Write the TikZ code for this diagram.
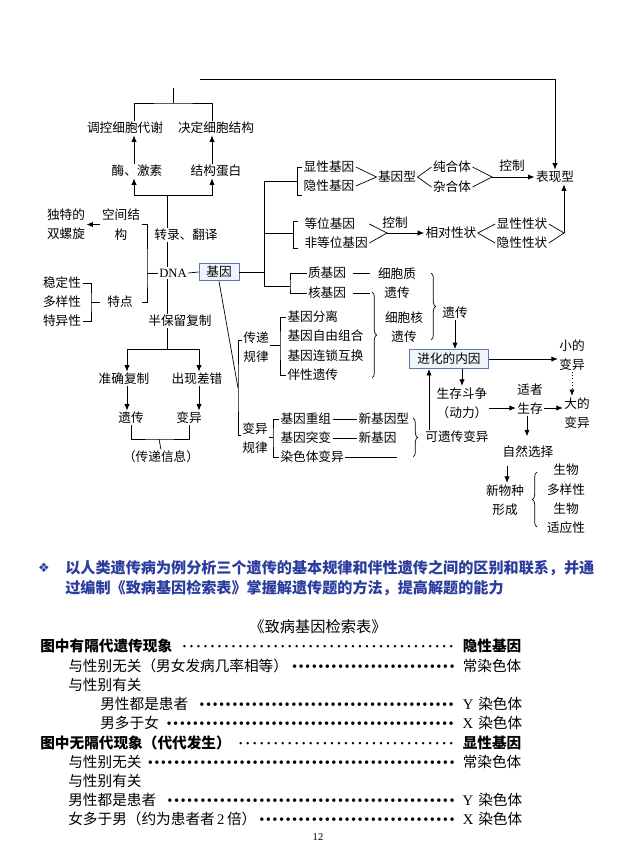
\documentclass[tikz,border=0pt]{standalone}
\usepackage{fontspec}
\setmainfont{Noto Sans CJK SC}
\newfontfamily\lat{Liberation Serif}
\newfontfamily\sym{DejaVu Sans}
\usetikzlibrary{arrows.meta, decorations.pathreplacing, calc}
\definecolor{boxline}{HTML}{5B79AE}
\definecolor{boxfill}{HTML}{EFF3FA}
\definecolor{headblue}{HTML}{2B3C9E}
\newcommand\fs{\fontsize{10.8pt}{16.5pt}\selectfont}
\newcommand\fr{\fontsize{12.5pt}{15pt}\selectfont}
\newcommand\bdots{\leaders\hbox to 5.6pt{\hss{\lat\fontsize{12.5pt}{12pt}\selectfont •}\hss}\hskip 0pt plus 1fill}
\newcommand\mdots{\leaders\hbox to 6pt{\hss{\lat ·}\hss}\hskip 0pt plus 1fill}
\newcommand\rtxt[1]{\rlap{\,#1}}
\tikzset{
    txt/.style={font=\fs, inner sep=1pt, align=center},
    box_blue/.style={rectangle, draw=boxline, fill=boxfill, line width=0.8pt, font=\fs, minimum width=1.2cm, minimum height=0.53cm, inner sep=2pt},
    arrow/.style={-{Latex[length=5.5pt,width=4.5pt]}, line width=0.7pt},
    brace_r/.style={decorate, decoration={brace, amplitude=4pt}},
    row/.style={font=\fr, inner sep=0pt, anchor=west, align=left}
}

\begin{document}
\begin{tikzpicture}[x=0.03cm, y=-0.03cm, line width=0.6pt]
    \useasboundingbox (0,0) rectangle (640,860);
    \fill[white] (0,0) rectangle (640,860);

    % DNA side
    \node[txt] (tk) at (125,128) {调控细胞代谢};
    \node[txt] (jd) at (216,128) {决定细胞结构};
    \node[txt] (mei) at (137,171) {酶、激素};
    \node[txt] (jgdb) at (216,171) {结构蛋白};
    \node[txt] (dtd) at (66,224.5) {独特的\\双螺旋};
    \node[txt] (kjj) at (121,224.5) {空间结\\构};
    \node[txt] (zl) at (186,235) {转录、翻译};
    \node[txt, font={\fs\lat}] (dna) at (173,273) {DNA};
    \node[box_blue] (jy) at (219,272) {基因};
    \node[txt] (wdx) at (62,283) {稳定性};
    \node[txt] (dyx) at (62,302) {多样性};
    \node[txt] (tyx) at (62,321) {特异性};
    \node[txt] (td) at (120,302) {特点};
    \node[txt] (bbl) at (180,321) {半保留复制};
    \node[txt] (zq) at (124,379) {准确复制};
    \node[txt] (cx) at (197,379) {出现差错};
    \node[txt] (yc) at (131,418) {遗传};
    \node[txt] (by) at (189,418) {变异};
    \node[txt] (cdxx) at (161,457) {（传递信息）};

    % gene side
    \node[txt] (xsjy) at (329,167) {显性基因};
    \node[txt] (ysjy) at (329,186) {隐性基因};
    \node[txt] (jyx) at (397,177) {基因型};
    \node[txt] (chh) at (452,167) {纯合体};
    \node[txt] (zhh) at (452,187) {杂合体};
    \node[txt] (kz1) at (512,166) {控制};
    \node[txt] (bxx) at (555,177) {表现型};
    \node[txt, anchor=west] (dwjy) at (303,224) {等位基因};
    \node[txt, anchor=west] (fdw) at (303,243) {非等位基因};
    \node[txt] (kz2) at (395,223) {控制};
    \node[txt] (xdxz) at (451,233) {相对性状};
    \node[txt] (xsxz) at (522,224) {显性性状};
    \node[txt] (ysxz) at (522,243) {隐性性状};
    \node[txt] (zjy) at (327,273) {质基因};
    \node[txt] (hjy) at (327,293) {核基因};
    \node[txt] (xbz) at (397,283) {细胞质\\遗传};
    \node[txt] (xbh) at (404,327) {细胞核\\遗传};
    \node[txt] (yc2) at (455,313) {遗传};
    \node[box_blue, minimum width=2.37cm, minimum height=0.57cm] (jhny) at (449,359) {进化的内因};
    \node[txt] (xdby) at (572,355) {小的\\变异};
    \node[txt] (ddby) at (577,413) {大的\\变异};
    \node[txt] (sczz) at (462,403) {生存斗争\\（动力）};
    \node[txt] (sz) at (530,399) {适者\\生存};
    \node[txt] (zrxz) at (528,452) {自然选择};
    \node[txt] (xwz) at (505,500) {新物种\\形成};
    \node[txt] (swx) at (566,499) {生物\\多样性\\生物\\适应性};
    \node[txt] (cd) at (256,347) {传递\\规律};
    \node[txt] (bygl) at (255,438) {变异\\规律};
    \node[txt, anchor=west] (jyfl) at (286,317) {基因分离};
    \node[txt, anchor=west] (zyzh) at (286,336) {基因自由组合};
    \node[txt, anchor=west] (lshh) at (286,356) {基因连锁互换};
    \node[txt, anchor=west] (bxyc) at (286,375) {伴性遗传};
    \node[txt, anchor=west] (jycz) at (279,419) {基因重组};
    \node[txt, anchor=west] (jytb) at (279,438) {基因突变};
    \node[txt, anchor=west] (rst) at (279,457) {染色体变异};
    \node[txt, anchor=west] (xjyx) at (357,419) {新基因型};
    \node[txt, anchor=west] (xjy) at (357,438) {新基因};
    \node[txt] (kyc) at (457,437) {可遗传变异};

    \coordinate (topl) at (200,79);
    \coordinate (topst) at (173,88);
    \coordinate (topj) at (173,103);
    \coordinate (stemb) at (167,195);
    \coordinate (lbr) at (147,273);
    \coordinate (tdj) at (91,302);
    \coordinate (bblj) at (167,349);
    \coordinate (xcj) at (159,439);
    \coordinate (vtop) at (264,181);
    \coordinate (vmid) at (264,233);
    \coordinate (vbot) at (264,286);
    \coordinate (kz1j) at (492,177);
    \coordinate (kz2j) at (387,233);
    \coordinate (xzj) at (564,233);
    \coordinate (cdj) at (238,388);
    \coordinate (hjyj) at (370,293);
    \coordinate (rsend) at (397,457);

    \draw[arrow] (topl) -| (bxx.north);
    \draw (topst) -- (topj);
    \draw (tk.north -| 134,0) |- (topj) -| (jd.north -| 212,0);
    \draw[arrow] (mei.north -| 134,0) -- (tk.south -| 134,0);
    \draw[arrow] (jgdb.north -| 212,0) -- (jd.south -| 212,0);
    \draw[arrow] (stemb) -| (mei.south -| 134,0);
    \draw[arrow] (stemb) -| (jgdb.south -| 212,0);
    \draw (stemb) -- (stemb |- zl.north);
    \draw (stemb |- zl.south) -- (stemb |- dna.north);
    \draw[arrow] (kjj.west) -- (dtd.east);
    \draw (kjj.east) -| (lbr) |- ([xshift=0.24cm]td.east);
    \draw (lbr) -- (dna.west);
    \draw (wdx.east) -| (tdj) |- (tyx.east);
    \draw (tdj) -- ([xshift=-0.18cm]td.west);
    \draw (stemb |- dna.south) -- (stemb |- bbl.north);
    \draw (stemb |- bbl.south) -- (bblj);
    \draw[arrow] (bblj) -| (zq.north -| 127,0);
    \draw[arrow] (bblj) -| (cx.north -| 199,0);
    \draw[arrow] (zq.south -| 127,0) -- (yc.north -| 127,0);
    \draw[arrow] (cx.south -| 199,0) -- (by.north -| 199,0);
    \draw (yc.south) |- (xcj) -| (by.south);
    \draw (xcj) -- (cdxx.north);

    \draw (dna.east) -- (jy.west);
    \draw (jy.east) -- (jy.east -| vtop);
    \draw (vtop) -- (vbot);
    \draw (vtop) -- (297,181);
    \draw (xsjy.west) -| (297,195) -- (302,195);
    \draw (xsjy.east) -- (jyx.west) -- (ysjy.east);
    \draw (chh.west) -- (jyx.east) -- (zhh.west);
    \draw (chh.east) -- (kz1j) -- (zhh.east);
    \draw[arrow] (kz1j) -- (bxx.west);
    \draw (vmid) -- (293,233);
    \draw (298,221) -| (293,248) -- (298,248);
    \draw (fdw.east |- dwjy.east) -- (kz2j) -- (fdw.east);
    \draw[arrow] (kz2j) -- (xdxz.west);
    \draw (xsxz.west) -- (xdxz.east) -- (ysxz.west);
    \draw (xsxz.east) -- (xzj) -- (ysxz.east);
    \draw[arrow] (xzj) -- (bxx.south -| xzj);
    \draw (vbot) -- (290,286);
    \draw (zjy.west) -| (290,286) |- (hjy.west);
    \draw[shorten <=0.15cm, shorten >=0.2cm] (zjy.east) -- (zjy.east -| xbz.west);
    \draw[shorten <=0.15cm] (hjy.east) -- (hjyj);
    \draw[brace_r] (372,292) -- (372,378);
    \draw[brace_r] (431,273) -- (431,340);
    \draw[arrow] (yc2.south) -- (jhny.north -| yc2.south);

    \draw[arrow] (jhny.east) -- (jhny.east -| xdby.west);
    \draw[arrow, dotted] (xdby.south) -- (xdby.south |- ddby.north);
    \draw[arrow] (jhny.south -| sczz.north) -- (sczz.north);
    \draw[arrow] (kyc.north -| 429,0) -- (jhny.south -| 429,0);
    \draw[arrow] (sczz.east |- 0,408) -- (sz.west |- 0,408);
    \draw[arrow] (sz.east |- 0,408) -- (ddby.west |- 0,408);
    \draw[arrow, shorten >=0.25cm] (sz.south -| 527,0) -- (zrxz.north -| 527,0);
    \draw[arrow, shorten <=0.2cm] (zrxz.south -| 507,0) -- (xwz.north -| 507,0);
    \draw[brace_r] (537,527) -- (537,472);

    \draw (jy.south) -- (cdj);
    \draw (cd.west |- 0,340) -| (cdj) |- (bygl.west |- 0,435);
    \draw (cd.east |- 0,345) -- (280,345);
    \draw (jyfl.west) -| (280,345) |- (bxyc.west);
    \draw (bygl.east |- 0,437) -- (273,437);
    \draw (jycz.west) -| (273,437) |- (rst.west);
    \draw (jycz.east) -- (xjyx.west);
    \draw (jytb.east) -- (xjy.west);
    \draw (rst.east) -- (rsend);
    \draw[brace_r] (413,418) -- (413,457);

    % table
    \node[font=\sym\fontsize{11pt}{12pt}\selectfont, text=headblue, inner sep=0pt] (bul) at (44,568) {❖};
    \node[font=\fontsize{12.9pt}{17pt}\selectfont\bfseries, text=headblue, anchor=west, align=left, inner sep=0pt] (head) at (65,578)
        {以人类遗传病为例分析三个遗传的基本规律和伴性遗传之间的区别和联系，并通\\过编制《致病基因检索表》掌握解遗传题的方法，提高解题的能力};
    \node[font=\fontsize{13pt}{15pt}\selectfont, inner sep=0pt] (title) at (318,627) {《致病基因检索表》};
    \node[row, font=\fr\bfseries, text width=12.6cm] (r1) at (40,646) {图中有隔代遗传现象\ \mdots\rtxt{隐性基因}};
    \node[row, text width=11.76cm] (r2) at (68,666) {与性别无关（男女发病几率相等）\bdots\rtxt{常染色体}};
    \node[row] (r3) at (68,685) {与性别有关};
    \node[row, text width=10.8cm] (r4) at (100,704) {男性都是患者\ \bdots\rtxt{{\lat Y} 染色体}};
    \node[row, text width=10.8cm] (r5) at (100,723) {男多于女\ \bdots\rtxt{{\lat X} 染色体}};
    \node[row, font=\fr\bfseries, text width=12.6cm] (r6) at (40,743) {图中无隔代现象（代代发生）\mdots\rtxt{显性基因}};
    \node[row, text width=11.76cm] (r7) at (68,762) {与性别无关\ \bdots\rtxt{常染色体}};
    \node[row] (r8) at (68,781) {与性别有关};
    \node[row, text width=11.76cm] (r9) at (68,800) {男性都是患者\ \bdots\rtxt{{\lat Y} 染色体}};
    \node[row, text width=11.76cm] (r10) at (68,819) {女多于男（约为患者者{\lat\,2\,}倍）\bdots\rtxt{{\lat X} 染色体}};
    \node[font=\lat\fontsize{9pt}{10pt}\selectfont, inner sep=0pt] (pg) at (318,837) {12};
\end{tikzpicture}
\end{document}
